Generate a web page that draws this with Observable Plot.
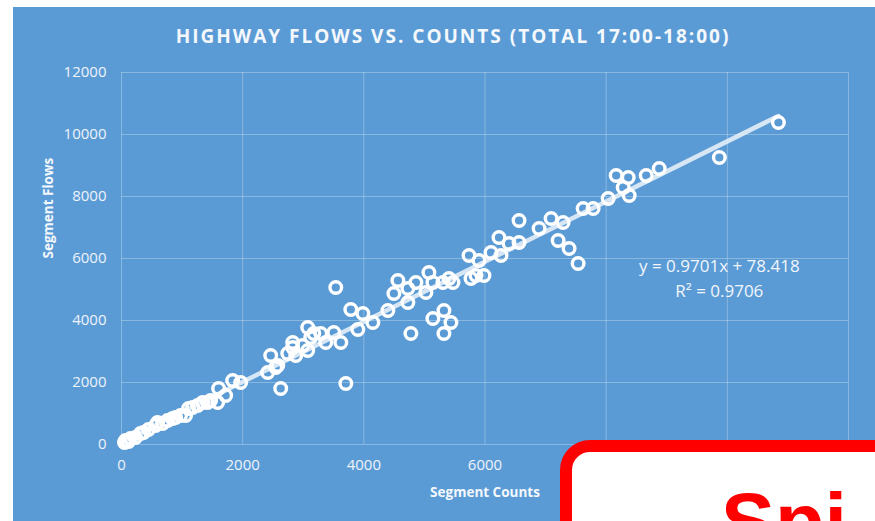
<!DOCTYPE html>
<html>
<head>
<meta charset="utf-8">
<script src="https://cdn.jsdelivr.net/npm/d3@7"></script>
<script src="https://cdn.jsdelivr.net/npm/@observablehq/plot@0.6"></script>
<style>
  html, body { margin: 0; padding: 0; background: #fff; width: 875px; height: 521px; overflow: hidden; }
  #bg { position: absolute; left: 13px; top: 7px; right: 0; bottom: 0; background: #5B9BD5; }
  #chart { position: absolute; left: 0; top: 0; }
  #overlay { position: absolute; left: 560px; top: 440px; width: 420px; height: 200px; border: 12px solid #FF0000; border-radius: 30px; background: #fff; overflow: hidden; }
  #overlay span { position: absolute; left: 149px; top: 30px; font-family: "Liberation Sans", Arial, sans-serif; font-weight: bold; font-size: 81px; color: #FF0000; line-height: 1; }
</style>
</head>
<body>
<div id="bg"></div>
<div id="chart"></div>
<div id="overlay"><span>Spi</span></div>
<script>
// Segment counts (x) and segment flows (y)
const counts = [50, 66, 116, 149, 231, 314, 364, 446, 562, 595, 678, 760, 843, 893, 975, 1058, 1107, 1174, 1256, 1339, 1421, 1471, 1587, 1603, 1719, 1835, 1967,
  2413, 2463, 2545, 2579, 2628, 2744, 2826, 2826, 2876, 2992, 3074, 3074, 3124, 3174, 3289, 3372, 3504, 3537, 3620, 3703, 3785, 3901, 3984, 4149,
  4397, 4496, 4562, 4727, 4727, 4777, 4860, 5025, 5074, 5140, 5140, 5306, 5322, 5322, 5405, 5438, 5471,
  5736, 5769, 5851, 5901, 5983, 6099, 6231, 6264, 6397, 6562, 6562, 6893, 7091, 7207, 7289, 7388, 7537, 7620, 7785, 8033,
  8165, 8281, 8364, 8380, 8661, 8876, 9868, 10843];
const flows = [65, 129, 97, 194, 226, 355, 387, 484, 613, 710, 677, 774, 839, 871, 935, 935, 1161, 1194, 1258, 1355, 1355, 1419, 1355, 1806, 1581, 2065, 2000,
  2323, 2871, 2484, 2548, 1806, 2935, 3129, 3290, 2871, 3194, 3032, 3774, 3452, 3581, 3581, 3290, 3613, 5065, 3290, 1968, 4355, 3710, 4226, 3935,
  4323, 4871, 5290, 4581, 5032, 3581, 5226, 4903, 5548, 5226, 4065, 5226, 4323, 3581, 5355, 3935, 5226,
  6097, 5355, 5452, 5935, 5452, 6194, 6677, 6097, 6484, 7226, 6516, 6968, 7290, 6581, 7161, 6323, 5839, 7613, 7613, 7935,
  8677, 8290, 8613, 8032, 8677, 8903, 9258, 10387];
const xTicks = [0, 2000, 4000, 6000, 8000, 10000, 12000];
const yTicks = [0, 2000, 4000, 6000, 8000, 10000, 12000];
const slope = 0.9701;
const intercept = 78.418;
const titleText = "HIGHWAY FLOWS VS. COUNTS (TOTAL 17:00-18:00)";
const xLabel = "Segment Counts";
const yLabel = "Segment Flows";
const eqLines = ["y = 0.9701x + 78.418", "R² = 0.9706"];
const eqPos = {x: 9868, y: [5742, 4935]};

const points = counts.map((c, i) => ({count: c, flow: flows[i]}));
const xMin = d3.min(counts), xMax = d3.max(counts);
const trend = [xMin, xMax].map(x => ({x, y: slope * x + intercept}));
const eq = eqLines.map((t, i) => ({t, x: eqPos.x, y: eqPos.y[i]}));

const fmt = d3.format("d");
const tickColor = "#EEF3FA";
const font = "'Open Sans', 'Noto Sans', sans-serif";

const chart = Plot.plot({
  width: 875,
  height: 521,
  marginLeft: 121,
  marginRight: 27,
  marginTop: 72,
  marginBottom: 77,
  style: {background: "transparent", fontFamily: font, color: "#fff"},
  x: {domain: [0, 12000], label: null},
  y: {domain: [0, 12000], label: null},
  marks: [
    Plot.gridX(xTicks, {stroke: "#fff", strokeOpacity: 0.28, strokeWidth: 1}),
    Plot.gridY(yTicks, {stroke: "#fff", strokeOpacity: 0.28, strokeWidth: 1}),
    Plot.axisX(xTicks, {tickSize: 0, tickPadding: 15, tickFormat: fmt, fontSize: 15, fill: tickColor, label: null}),
    Plot.axisY(yTicks, {tickSize: 0, tickPadding: 15, tickFormat: fmt, fontSize: 15, fill: tickColor, label: null}),
    Plot.line(trend, {x: "x", y: "y", stroke: "#E4EEF8", strokeWidth: 4.5, strokeOpacity: 0.9}),
    Plot.dot(points, {x: "count", y: "flow", r: 5.8, stroke: "#fff", strokeWidth: 3.4, fill: "none"}),
    Plot.text(eq, {x: "x", y: "y", text: "t", fill: "#F2F6FB", fontSize: 17, textAnchor: "middle"}),
    Plot.text([titleText], {frameAnchor: "top", dy: -36, dx: -32, fill: "#F4F8FC", fontSize: 19, fontWeight: "bold", lineAnchor: "middle"}),
    Plot.text([xLabel], {frameAnchor: "bottom", dy: 48, fill: "#F4F8FC", fontSize: 13.5, fontWeight: "bold", lineAnchor: "middle"}),
    Plot.text([yLabel], {frameAnchor: "left", dx: -73, rotate: -90, fill: "#F4F8FC", fontSize: 13.5, fontWeight: "bold", lineAnchor: "middle"})
  ]
});
d3.select(chart).selectAll("text").filter(function() { return this.textContent === titleText; })
  .attr("letter-spacing", "2px");
document.getElementById("chart").appendChild(chart);
</script>
</body>
</html>
